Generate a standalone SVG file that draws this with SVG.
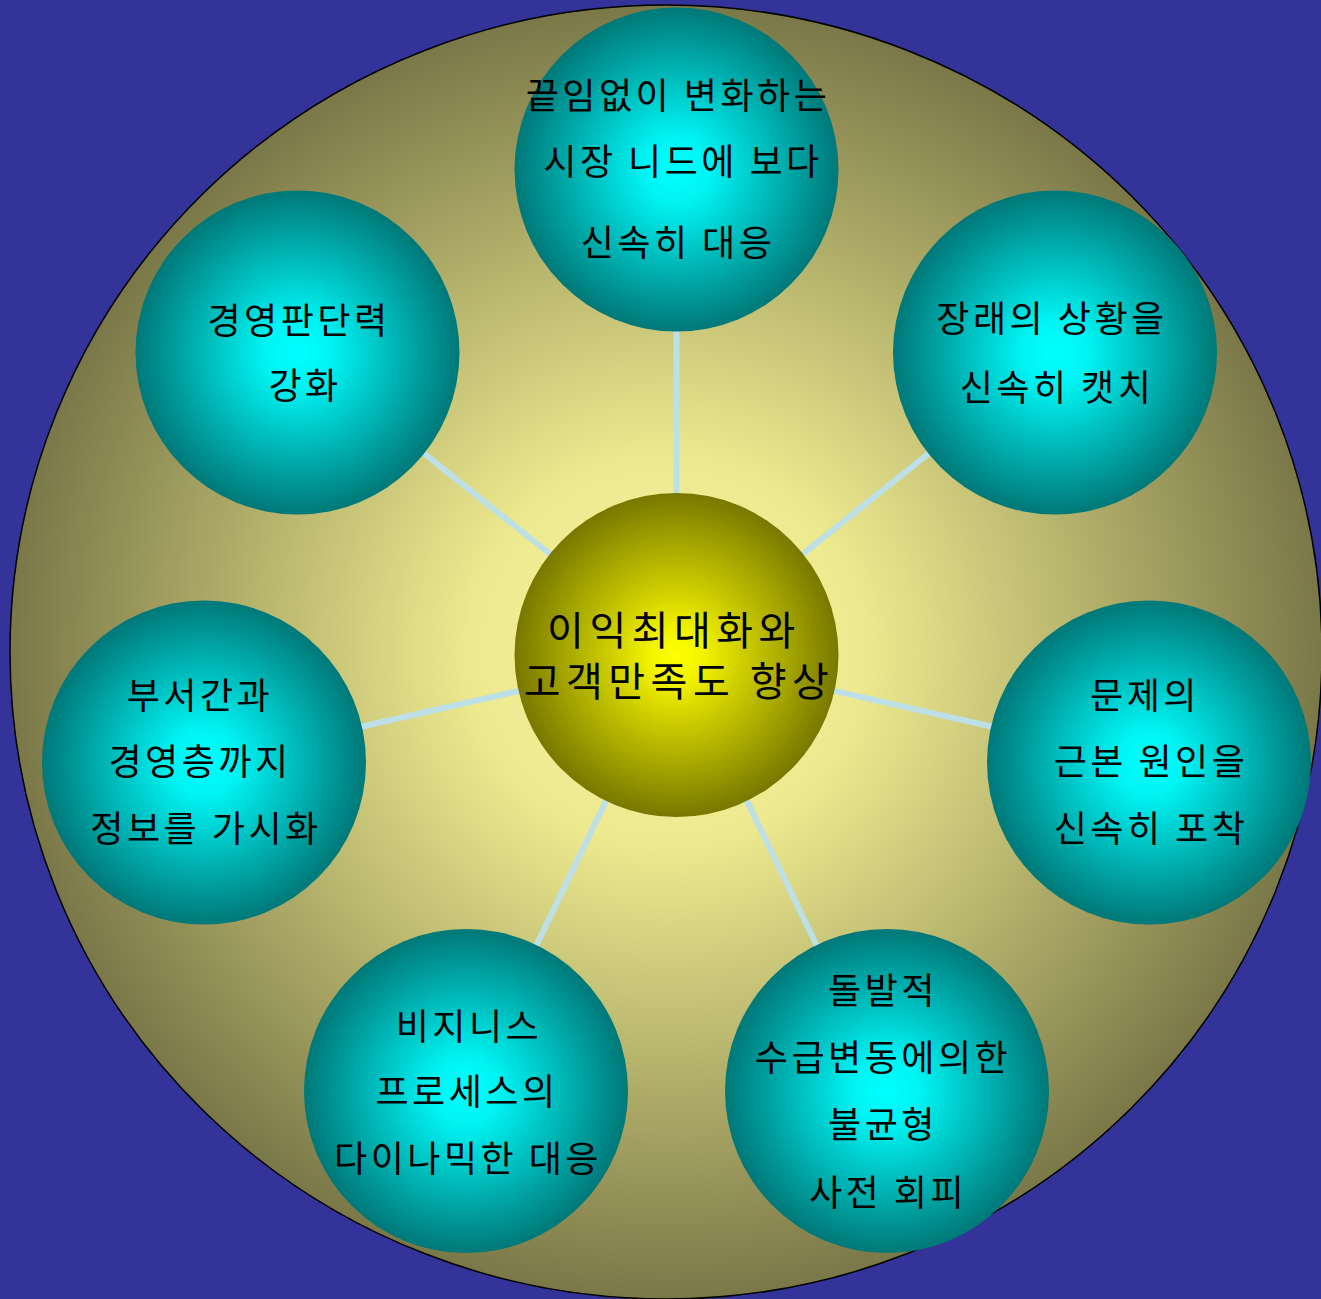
<svg xmlns="http://www.w3.org/2000/svg" width="1321" height="1299" viewBox="0 0 1321 1299">
<defs>
<radialGradient id="bgGrad" cx="0.5" cy="0.5" r="0.5">
<stop offset="0" stop-color="#f8f49e"/>
<stop offset="0.3" stop-color="#ede98f"/>
<stop offset="1" stop-color="#7a7848"/>
</radialGradient>
<radialGradient id="cyanGrad" cx="0.5" cy="0.5" r="0.5">
<stop offset="0" stop-color="#00ffff"/>
<stop offset="0.2" stop-color="#00f4f4"/>
<stop offset="1" stop-color="#007878"/>
</radialGradient>
<radialGradient id="yellowGrad" cx="0.5" cy="0.5" r="0.5">
<stop offset="0" stop-color="#ffff00"/>
<stop offset="0.15" stop-color="#f4f400"/>
<stop offset="1" stop-color="#787800"/>
</radialGradient>
</defs>
<style>
.sat{fill:url(#cyanGrad);}
.hub{fill:url(#yellowGrad);}
.conn{stroke:#bde0e6;stroke-width:6;fill:none;}
text{font-family:"Noto Sans CJK KR","Noto Sans",sans-serif;fill:#000;text-anchor:middle;}
.t{font-size:36px;letter-spacing:3.5px;}
.tc{font-size:40px;letter-spacing:5.5px;}
</style>
<rect x="0" y="0" width="1321" height="1299" fill="#333399"/>
<ellipse id="background-ring" cx="666" cy="652" rx="656" ry="647" fill="url(#bgGrad)" stroke="#000" stroke-width="1.5"/>
<g id="connectors">
<line class="conn" x1="676.5" y1="655" x2="676.5" y2="169.5"/>
<line class="conn" x1="676.5" y1="655" x2="1055" y2="352.5"/>
<line class="conn" x1="676.5" y1="655" x2="297.5" y2="352.5"/>
<line class="conn" x1="676.5" y1="655" x2="204" y2="762.5"/>
<line class="conn" x1="676.5" y1="655" x2="1149" y2="762.5"/>
<line class="conn" x1="676.5" y1="655" x2="466" y2="1091"/>
<line class="conn" x1="676.5" y1="655" x2="887" y2="1091"/>
</g>
<g id="node-center">
<circle class="hub" cx="676.5" cy="655" r="162"/>
<text class="tc" x="674" y="645">이익최대화와</text>
<text class="tc" x="679" y="696">고객만족도 향상</text>
</g>
<g id="node-top">
<circle class="sat" cx="676.5" cy="169.5" r="162"/>
<text class="t" x="678" y="109">끝임없이 변화하는</text>
<text class="t" x="683" y="175">시장 니드에 보다</text>
<text class="t" x="678" y="256">신속히 대응</text>
</g>
<g id="node-top-right">
<circle class="sat" cx="1055" cy="352.5" r="162"/>
<text class="t" x="1052" y="332">장래의 상황을</text>
<text class="t" x="1057" y="401">신속히 캣치</text>
</g>
<g id="node-top-left">
<circle class="sat" cx="297.5" cy="352.5" r="162"/>
<text class="t" x="299" y="334">경영판단력</text>
<text class="t" x="305" y="399">강화</text>
</g>
<g id="node-left">
<circle class="sat" cx="204" cy="762.5" r="162"/>
<text class="t" x="200" y="709">부서간과</text>
<text class="t" x="200" y="775">경영층까지</text>
<text class="t" x="206" y="842">정보를 가시화</text>
</g>
<g id="node-right">
<circle class="sat" cx="1149" cy="762.5" r="162"/>
<text class="t" x="1145" y="709">문제의</text>
<text class="t" x="1151" y="775">근본 원인을</text>
<text class="t" x="1151" y="842">신속히 포착</text>
</g>
<g id="node-bottom-left">
<circle class="sat" cx="466" cy="1091" r="162"/>
<text class="t" x="469" y="1040">비지니스</text>
<text class="t" x="467" y="1105">프로세스의</text>
<text class="t" x="468" y="1172">다이나믹한 대응</text>
</g>
<g id="node-bottom-right">
<circle class="sat" cx="887" cy="1091" r="162"/>
<text class="t" x="883" y="1004">돌발적</text>
<text class="t" x="883" y="1071">수급변동에의한</text>
<text class="t" x="883" y="1138">불균형</text>
<text class="t" x="888" y="1206">사전 회피</text>
</g>
</svg>
